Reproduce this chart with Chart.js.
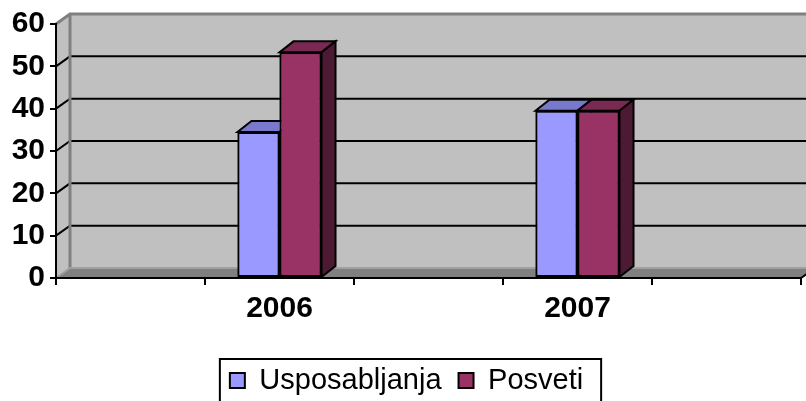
<!DOCTYPE html>
<html>
<head>
<meta charset="utf-8">
<script src="https://cdn.jsdelivr.net/npm/chart.js@4.4.0/dist/chart.umd.min.js"></script>
<style>
    html, body { margin: 0; padding: 0; background: #fff; }
</style>
</head>
<body>
<canvas id="chart" width="806" height="401"></canvas>
<script>
const categories = ['', '2006', '', '2007', ''];
const usposabljanja = [null, 34.5, null, 39.5, null];
const posveti = [null, 53.3, null, 39.5, null];
const yMin = 0;
const yMax = 60;
const yStep = 10;

// depth offsets for the walls and for the columns
const WALL_DX = 14, WALL_DY = -10;
const BAR_DX = 14, BAR_DY = -11;

const FONT = "'Liberation Sans', Arial, sans-serif";

// colours: front, top, side of each column
const shades = [
    { front: '#9999ff', top: '#7878cc', side: '#4d4d80' },
    { front: '#993366', top: '#7a2952', side: '#4d1a33' }
];

function poly(ctx, pts, fill, stroke, lw) {
    ctx.beginPath();
    ctx.moveTo(pts[0][0], pts[0][1]);
    for (let i = 1; i < pts.length; i++) ctx.lineTo(pts[i][0], pts[i][1]);
    ctx.closePath();
    if (fill) { ctx.fillStyle = fill; ctx.fill(); }
    if (stroke) { ctx.strokeStyle = stroke; ctx.lineWidth = lw || 1; ctx.stroke(); }
}

// back wall, side wall, floor and the gridlines on the wall
const wallPlugin = {
    id: 'walls',
    beforeDraw(chart) {
        const ctx = chart.ctx;
        const a = chart.chartArea;
        const y = chart.scales.y;
        const L = a.left, R = a.right;
        const T = y.getPixelForValue(yMax), B = y.getPixelForValue(yMin);
        const dx = WALL_DX, dy = WALL_DY;
        ctx.save();
        ctx.lineJoin = 'miter';

        poly(ctx, [[L + dx, T + dy], [R + dx + 20, T + dy], [R + dx + 20, B + dy], [L + dx, B + dy]], '#c0c0c0');
        poly(ctx, [[L, T], [L + dx, T + dy], [L + dx, B + dy], [L, B]], '#c0c0c0');
        poly(ctx, [[L, B], [L + dx, B + dy], [R + dx, B + dy], [R, B]], '#808080');

        ctx.strokeStyle = '#000';
        ctx.lineWidth = 2;
        for (let v = yMin + yStep; v < yMax; v += yStep) {
            const py = y.getPixelForValue(v);
            ctx.beginPath();
            ctx.moveTo(L, py);
            ctx.lineTo(L + dx, py + dy);
            ctx.lineTo(R + dx + 20, py + dy);
            ctx.stroke();
        }

        // wall edges
        ctx.strokeStyle = '#808080';
        ctx.lineWidth = 3;
        ctx.beginPath();
        ctx.moveTo(L, T);
        ctx.lineTo(L + dx, T + dy);
        ctx.lineTo(R + dx + 20, T + dy);
        ctx.moveTo(L + dx, T + dy);
        ctx.lineTo(L + dx, B + dy);
        ctx.stroke();

        ctx.strokeStyle = '#a0a0a0';
        ctx.lineWidth = 2;
        ctx.beginPath();
        ctx.moveTo(L, B);
        ctx.lineTo(L + dx, B + dy);
        ctx.lineTo(R + dx + 20, B + dy);
        ctx.stroke();

        ctx.strokeStyle = '#000';
        ctx.lineWidth = 2;
        ctx.beginPath();
        ctx.moveTo(R, B);
        ctx.lineTo(R + dx, B + dy);
        ctx.stroke();
        ctx.restore();
    }
};

// Chart.js paints the first dataset last, so the columns are repainted here
// left to right, each front followed by its top and side faces
const depthPlugin = {
    id: 'depth',
    afterDatasetsDraw(chart) {
        const ctx = chart.ctx;
        ctx.save();
        ctx.lineJoin = 'miter';
        chart.data.datasets.forEach((ds, di) => {
            const shade = shades[di];
            const meta = chart.getDatasetMeta(di);
            meta.data.forEach((bar, i) => {
                if (ds.data[i] == null) return;
                bar.draw(ctx);
                const p = bar.getProps(['x', 'y', 'base', 'width'], true);
                const l = p.x - p.width / 2, r = p.x + p.width / 2;
                poly(ctx, [[l, p.y], [l + BAR_DX, p.y + BAR_DY], [r + BAR_DX, p.y + BAR_DY], [r, p.y]], shade.top, '#000', 2);
                poly(ctx, [[r, p.y], [r + BAR_DX, p.y + BAR_DY], [r + BAR_DX, p.base + BAR_DY], [r, p.base]], shade.side, '#000', 2);
            });
        });
        ctx.restore();
    }
};

// legend sits a little right of centre, inside a black frame
const legendFrame = {
    id: 'legendFrame',
    afterLayout(chart) {
        chart.legend.left += 6;
        chart.legend.right += 6;
    },
    afterDraw(chart) {
        const lg = chart.legend;
        if (!lg || !lg.legendHitBoxes.length) return;
        const boxes = lg.legendHitBoxes;
        const first = boxes[0], last = boxes[boxes.length - 1];
        const cy = first.top + first.height / 2;
        const ctx = chart.ctx;
        ctx.save();
        ctx.strokeStyle = '#000';
        ctx.lineWidth = 2;
        ctx.strokeRect(first.left - 10, cy - 21.5, last.left + last.width - first.left + 28, 60);
        ctx.restore();
    }
};

new Chart(document.getElementById('chart'), {
    type: 'bar',
    data: {
        labels: categories,
        datasets: [{
            label: 'Usposabljanja',
            data: usposabljanja,
            backgroundColor: shades[0].front,
            borderColor: '#000',
            borderWidth: 2,
            borderSkipped: false
        }, {
            label: 'Posveti',
            data: posveti,
            backgroundColor: shades[1].front,
            borderColor: '#000',
            borderWidth: 2,
            borderSkipped: false
        }]
    },
    options: {
        responsive: false,
        animation: false,
        layout: { padding: { top: 24, right: 5, left: 0, bottom: -4 } },
        datasets: {
            bar: { categoryPercentage: 0.564, barPercentage: 1 }
        },
        plugins: {
            tooltip: { enabled: false },
            legend: {
                position: 'bottom',
                labels: {
                    color: '#000',
                    font: { family: FONT, size: 29 },
                    boxWidth: 15,
                    boxHeight: 15,
                    padding: 17
                }
            }
        },
        scales: {
            x: {
                grid: { drawOnChartArea: false, color: '#000', lineWidth: 2, tickLength: 7, offset: true },
                border: { color: '#000', width: 2 },
                ticks: { color: '#000', font: { family: FONT, size: 30, weight: 'bold' }, padding: 6, maxRotation: 0, autoSkip: false },
                afterFit(scale) { scale.height = 71; }
            },
            y: {
                min: yMin,
                max: yMax,
                grid: { drawOnChartArea: false, color: '#000', lineWidth: 2, tickLength: 6 },
                border: { color: '#000', width: 2 },
                ticks: { stepSize: yStep, color: '#000', font: { family: FONT, size: 30, weight: 'bold' }, padding: 5 },
                afterFit(scale) { scale.width = 56; }
            }
        }
    },
    plugins: [wallPlugin, depthPlugin, legendFrame]
});
</script>
</body>
</html>
